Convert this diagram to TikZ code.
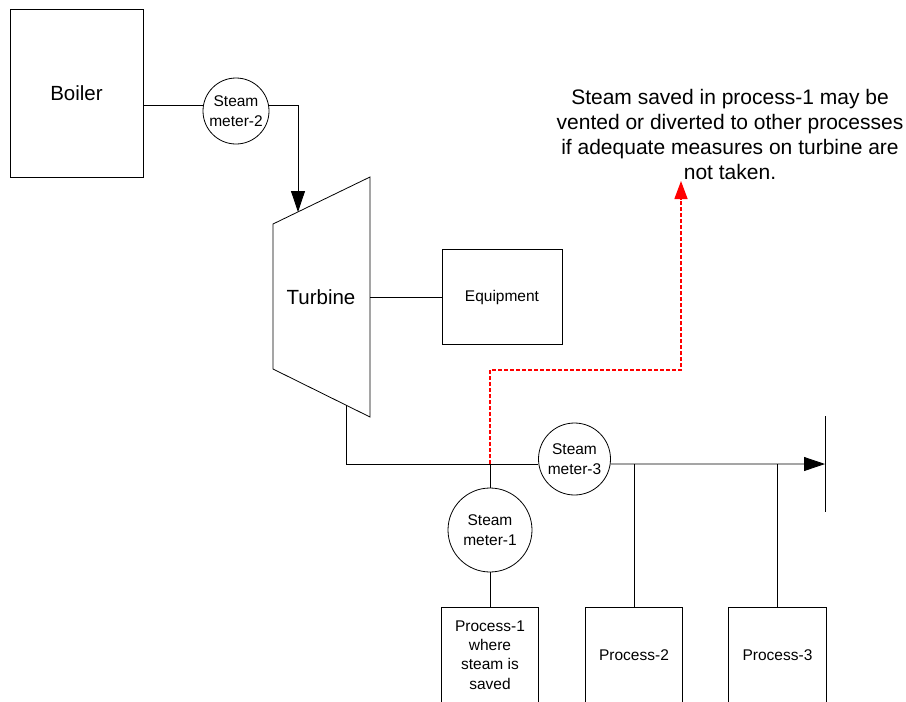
\documentclass[tikz,border=0pt]{standalone}
\usepackage{fontspec}
\setmainfont{Liberation Sans}
\usetikzlibrary{arrows.meta}
\begin{document}
\begin{tikzpicture}[x=1pt,y=-1pt,
  line/.style={draw=black,line width=0.8pt},
  box/.style={line,rectangle,inner sep=0pt},
  meter/.style={line,circle,inner sep=0pt,align=center,font=\fontsize{15.5}{19.5}\selectfont},
  small/.style={font=\fontsize{15.5}{19.3}\selectfont,align=center},
  big/.style={font=\fontsize{20.5}{24}\selectfont},
  arr/.style={-{Triangle[length=21pt,width=14pt]}},
  redarr/.style={draw=red,line width=1.4pt,dash pattern=on 4pt off 2pt,-{Triangle[length=18pt,width=13pt]}}]
\useasboundingbox (0,0) rectangle (906,702);
% boiler
\node[box,big,minimum width=133pt,minimum height=168pt] (boiler) at (76.5,93) {Boiler};
\node[meter,minimum size=66pt] (sm2) at (236,111) {Steam\\meter-2};
% turbine
\coordinate (tTL) at (273,224);
\coordinate (tTR) at (370,177);
\coordinate (tBR) at (370,417);
\coordinate (tBL) at (273,369);
\draw[line] (tTL) -- (tTR) -- (tBR) -- (tBL) -- cycle;
\node[big] (turbine) at (321,297) {Turbine};
\coordinate (tin) at (298,212);
\coordinate (tout) at (346,405);
\coordinate (tshaft) at (370,297);
% equipment
\node[box,small,minimum width=120pt,minimum height=95pt] (equip) at (502,297) {Equipment};
% steam meters
\node[meter,minimum size=72pt] (sm3) at (574.5,459) {Steam\\meter-3};
\node[meter,minimum size=84pt] (sm1) at (490,530) {Steam\\meter-1};
% processes (open at bottom)
\node[small,minimum width=96pt,minimum height=94pt,inner sep=0pt] (p1) at (490,655) {Process-1\\where\\steam is\\saved};
\node[small,minimum width=96pt,minimum height=94pt,inner sep=0pt] (p2) at (634,655) {Process-2};
\node[small,minimum width=97pt,minimum height=94pt,inner sep=0pt] (p3) at (777.5,655) {Process-3};
\foreach \p in {p1,p2,p3}{
  \draw[line] (\p.south west) |- (\p.north east) -- (\p.south east);
}
% end of header
\coordinate (hend) at (825,464);
\coordinate (barT) at (825,416);
\coordinate (barB) at (825,512);
\coordinate (j1) at (490,464);
% note
\node[align=center,font=\fontsize{21}{25}\selectfont] (note) at (730,134.5)
  {Steam saved in process-1 may be\\vented or diverted to other processes\\if adequate measures on turbine are\\not taken.};
\coordinate (ntip) at (681,181);
% connectors
\draw[line] (boiler.east |- sm2.171) -- (sm2.171);
\draw[line,arr] (sm2.9) -| (tin);
\draw[line] (tshaft) -- (equip.west);
\draw[line] (tout) |- (sm3.188);
\draw[line,arr] (sm3.-8) -- (hend);
\draw[line] (barT) -- (barB);
\draw[line] (j1) -- (sm1.north);
\draw[line] (sm1.south) -- (p1.north);
\draw[line] (p2.north |- hend) -- (p2.north);
\draw[line] (p3.north |- hend) -- (p3.north);
\draw[redarr] (j1) -- (490,370) -| (ntip);
\end{tikzpicture}
\end{document}
